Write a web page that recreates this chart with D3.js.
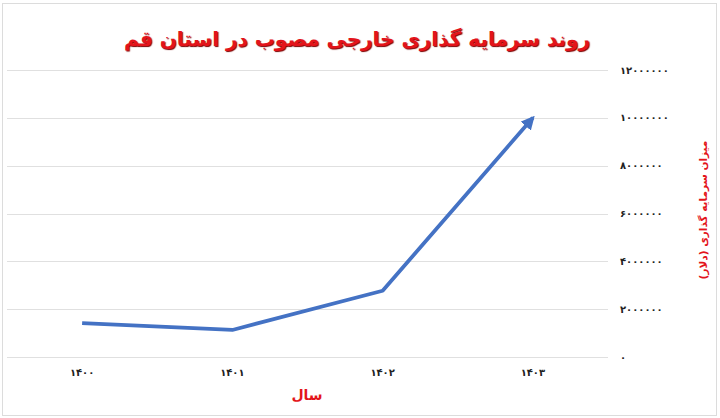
<!DOCTYPE html>
<html>
<head>
<meta charset="utf-8">
<script src="https://cdn.jsdelivr.net/npm/d3@7"></script>
<style>
  body { margin: 0; background: #fff; }
  svg { display: block; font-family: "DejaVu Sans", sans-serif; }
</style>
</head>
<body>
<svg id="chart" width="720" height="418"></svg>
<script>
'use strict';

// data
var years = [1400, 1401, 1402, 1403];
var investment = [1420000, 1130000, 2770000, 10000000];
var yTicks = [0, 2000000, 4000000, 6000000, 8000000, 10000000, 12000000];

var title = 'روند سرمایه گذاری خارجی مصوب در استان قم';
var yTitle = 'میزان سرمایه گذاری (دلار)';
var xTitle = 'سال';

var fa = '۰۱۲۳۴۵۶۷۸۹';
function faNum(n) {
  return String(n).replace(/\d/g, function(d) { return fa[+d]; });
}

var svg = d3.select('#chart');
var red = '#e3141b', blue = '#4472c4', grid = '#e0e0e0';

// outer frame
svg.append('rect').attr('x', 2.5).attr('y', 3.5).attr('width', 714).attr('height', 412)
  .attr('fill', '#fff').attr('stroke', '#dcdcdc').attr('stroke-width', 1);

var x = d3.scalePoint().domain(years).range([7, 608]).padding(0.5);
var y = d3.scaleLinear().domain([0, 12000000]).range([357, 70]);

// gridlines
svg.append('g').selectAll('line').data(yTicks).enter().append('line')
  .attr('x1', 7).attr('x2', 608)
  .attr('y1', function(d) { return Math.round(y(d)) + 0.5; })
  .attr('y2', function(d) { return Math.round(y(d)) + 0.5; })
  .attr('stroke', grid).attr('stroke-width', 1);

// y tick labels (right side)
svg.append('g').selectAll('text').data(yTicks).enter().append('text')
  .attr('x', 620).attr('y', function(d) { return y(d); })
  .attr('dy', '.35em').attr('direction', 'ltr').attr('text-anchor', 'start')
  .style('font-size', '10px').style('font-weight', 'bold')
  .style('letter-spacing', '1.6px').attr('fill', '#222')
  .text(function(d) { return faNum(d); });

// x tick labels
svg.append('g').selectAll('text').data(years).enter().append('text')
  .attr('x', function(d) { return x(d); }).attr('y', 372)
  .attr('dy', '.35em').attr('text-anchor', 'middle').attr('direction', 'ltr')
  .style('font-size', '10px').style('font-weight', 'bold')
  .style('letter-spacing', '1.2px').attr('fill', '#222')
  .text(function(d) { return faNum(d); });

// arrow marker
svg.append('defs').append('marker')
  .attr('id', 'arrow').attr('viewBox', '0 0 10 10')
  .attr('refX', 8).attr('refY', 5)
  .attr('markerWidth', 3.6).attr('markerHeight', 3.6)
  .attr('orient', 'auto')
  .append('path').attr('d', 'M0,0 L10,5 L0,10 Z').attr('fill', blue);

var line = d3.line()
  .x(function(d, i) { return x(years[i]); })
  .y(function(d) { return y(d); });

svg.append('path').datum(investment)
  .attr('d', line).attr('fill', 'none')
  .attr('stroke', blue).attr('stroke-width', 3.8)
  .attr('stroke-linejoin', 'round')
  .attr('marker-end', 'url(#arrow)');

// titles
svg.append('text').attr('x', 357).attr('y', 46)
  .attr('text-anchor', 'middle').attr('direction', 'rtl')
  .style('font-size', '20px').style('font-weight', 'bold')
  .attr('fill', red).style('text-shadow', '1px 1px 1px #7a0000')
  .text(title);

svg.append('text').attr('transform', 'translate(707,210) rotate(-90)')
  .attr('text-anchor', 'middle').attr('direction', 'rtl')
  .style('font-size', '10.5px').style('font-weight', 'bold')
  .attr('fill', red).text(yTitle);

svg.append('text').attr('x', 307).attr('y', 395).attr('dy', '.35em')
  .attr('text-anchor', 'middle').attr('direction', 'rtl')
  .style('font-size', '14px').style('font-weight', 'bold')
  .attr('fill', red).text(xTitle);
</script>
</body>
</html>
